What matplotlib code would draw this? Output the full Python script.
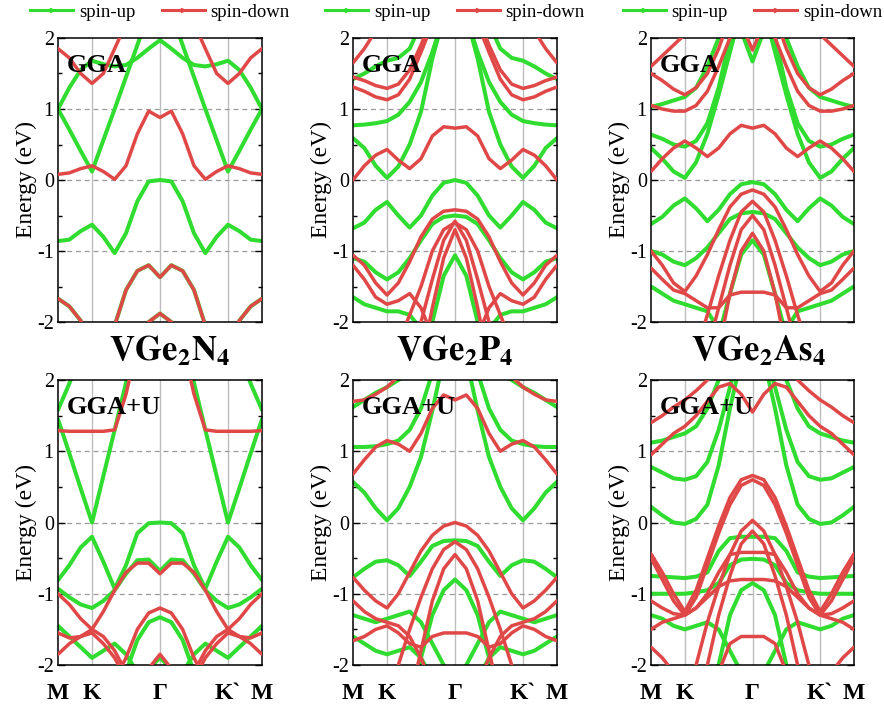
import matplotlib
matplotlib.use('Agg')
import matplotlib.pyplot as plt
from matplotlib.lines import Line2D

plt.rcParams['font.family'] = ['Liberation Serif', 'DejaVu Serif']
plt.rcParams['mathtext.fontset'] = 'stix'

# k-path coordinate (M -> K -> Gamma -> K' -> M), 19 sampled points
K_PATH = [0.0, 0.0556, 0.1111, 0.1667, 0.2222, 0.2778, 0.3333, 0.3889, 0.4444, 0.5,
          0.5556, 0.6111, 0.6667, 0.7222, 0.7778, 0.8333, 0.8889, 0.9444, 1.0]
K_TICKS = [0.0, 0.1667, 0.5, 0.8333, 1.0]
K_LABELS = ['M', 'K', 'Γ', 'K`', 'M']
E_TICKS = [-2, -1, 0, 1, 2]
COMPOUNDS = [r'$\mathbf{VGe_2N_4}$', r'$\mathbf{VGe_2P_4}$', r'$\mathbf{VGe_2As_4}$']
METHODS = ['GGA', 'GGA+U']

# ---------------- VGe2N4, GGA ----------------
N4_GGA_UP = [
    [1.0, 0.71, 0.41, 0.12, 0.56, 1.0, 1.45, 1.9, 2.35, 2.6, 2.35, 1.9, 1.45, 1.0, 0.56, 0.12, 0.41, 0.71, 1.0],
    [1.0, 1.3, 1.55, 1.68, 1.63, 1.6, 1.62, 1.72, 1.85, 1.97, 1.85, 1.72, 1.62, 1.6, 1.63, 1.68, 1.55, 1.3, 1.0],
    [-0.86, -0.84, -0.72, -0.63, -0.8, -1.03, -0.75, -0.3, -0.02, 0.0, -0.02, -0.3, -0.75, -1.03, -0.8, -0.63, -0.72, -0.84, -0.86],
    [-1.67, -1.78, -1.98, -2.3, -2.4, -2.05, -1.55, -1.28, -1.2, -1.37, -1.2, -1.28, -1.55, -2.05, -2.4, -2.3, -1.98, -1.78, -1.67],
    [-3, -3, -3, -3, -3, -3, -2.6, -2.2, -2.0, -1.88, -2.0, -2.2, -2.6, -3, -3, -3, -3, -3, -3],
]
N4_GGA_DN = [
    [0.08, 0.1, 0.16, 0.2, 0.12, 0.01, 0.2, 0.65, 0.97, 0.88, 0.97, 0.65, 0.2, 0.01, 0.12, 0.2, 0.16, 0.1, 0.08],
    [1.85, 1.72, 1.5, 1.36, 1.5, 1.85, 2.2, 2.6, 2.9, 3.0, 2.9, 2.6, 2.2, 1.85, 1.5, 1.36, 1.5, 1.72, 1.85],
    [-1.67, -1.78, -1.98, -2.3, -2.4, -2.05, -1.55, -1.28, -1.2, -1.37, -1.2, -1.28, -1.55, -2.05, -2.4, -2.3, -1.98, -1.78, -1.67],
    [-3, -3, -3, -3, -3, -3, -2.6, -2.2, -2.0, -1.88, -2.0, -2.2, -2.6, -3, -3, -3, -3, -3, -3],
]

# ---------------- VGe2P4, GGA ----------------
P4_GGA_UP = [
    [0.59, 0.45, 0.2, 0.03, 0.19, 0.5, 0.96, 1.71, 2.3, 2.6, 2.3, 1.71, 0.96, 0.5, 0.19, 0.03, 0.2, 0.45, 0.59],
    [0.77, 0.78, 0.8, 0.83, 0.92, 1.1, 1.38, 1.8, 2.3, 2.7, 2.3, 1.8, 1.38, 1.1, 0.92, 0.83, 0.8, 0.78, 0.77],
    [1.42, 1.5, 1.6, 1.68, 1.72, 1.85, 2.2, 2.6, 2.9, 3.0, 2.9, 2.6, 2.2, 1.85, 1.72, 1.68, 1.6, 1.5, 1.42],
    [-0.68, -0.6, -0.42, -0.31, -0.5, -0.67, -0.5, -0.22, -0.04, 0.0, -0.04, -0.22, -0.5, -0.67, -0.5, -0.31, -0.42, -0.6, -0.68],
    [-1.1, -1.15, -1.3, -1.4, -1.3, -1.1, -0.85, -0.62, -0.52, -0.5, -0.52, -0.62, -0.85, -1.1, -1.3, -1.4, -1.3, -1.15, -1.1],
    [-3, -3, -3, -3, -3, -3, -2.7, -2.0, -1.35, -1.06, -1.35, -2.0, -2.7, -3, -3, -3, -3, -3, -3],
    [-1.65, -1.75, -1.8, -1.85, -1.85, -1.9, -2.1, -2.5, -2.8, -3.0, -2.8, -2.5, -2.1, -1.9, -1.85, -1.85, -1.8, -1.75, -1.65],
]
P4_GGA_DN = [
    [0.0, 0.2, 0.35, 0.43, 0.28, 0.16, 0.3, 0.62, 0.75, 0.73, 0.75, 0.62, 0.3, 0.16, 0.28, 0.43, 0.35, 0.2, 0.0],
    [1.31, 1.25, 1.17, 1.13, 1.2, 1.42, 1.8, 2.2, 2.6, 2.8, 2.6, 2.2, 1.8, 1.42, 1.2, 1.13, 1.17, 1.25, 1.31],
    [1.45, 1.4, 1.33, 1.29, 1.35, 1.55, 1.9, 2.3, 2.7, 2.9, 2.7, 2.3, 1.9, 1.55, 1.35, 1.29, 1.33, 1.4, 1.45],
    [1.65, 1.85, 2.1, 2.4, 2.7, 3.0, 3.0, 3.0, 3.0, 3.0, 3.0, 3.0, 3.0, 3.0, 2.7, 2.4, 2.1, 1.85, 1.65],
    [-1.06, -1.2, -1.45, -1.62, -1.45, -1.15, -0.8, -0.55, -0.44, -0.42, -0.44, -0.55, -0.8, -1.15, -1.45, -1.62, -1.45, -1.2, -1.06],
    [-3, -3, -3, -3, -3, -2.4, -2.0, -1.4, -0.85, -0.58, -0.85, -1.4, -2.0, -2.4, -3, -3, -3, -3, -3],
    [-3, -3, -3, -3, -3, -3, -2.6, -1.8, -1.1, -0.7, -1.1, -1.8, -2.6, -3, -3, -3, -3, -3, -3],
    [-3, -3, -3, -3, -2.3, -1.9, -1.5, -1.0, -0.7, -0.6, -0.7, -1.0, -1.5, -1.9, -2.3, -3, -3, -3, -3],
    [-1.2, -1.4, -1.65, -1.75, -1.7, -1.6, -1.8, -2.2, -2.6, -3.0, -2.6, -2.2, -1.8, -1.6, -1.7, -1.75, -1.65, -1.4, -1.2],
]

# ---------------- VGe2As4, GGA ----------------
AS4_GGA_UP = [
    [0.45, 0.3, 0.12, 0.03, 0.25, 0.65, 1.2, 1.8, 2.4, 2.7, 2.4, 1.8, 1.2, 0.65, 0.25, 0.03, 0.12, 0.3, 0.45],
    [0.64, 0.58, 0.5, 0.47, 0.55, 0.8, 1.3, 2.0, 2.6, 2.9, 2.6, 2.0, 1.3, 0.8, 0.55, 0.47, 0.5, 0.58, 0.64],
    [1.03, 1.07, 1.12, 1.17, 1.3, 1.6, 2.0, 2.5, 2.9, 3.0, 2.9, 2.5, 2.0, 1.6, 1.3, 1.17, 1.12, 1.07, 1.03],
    [3, 3, 3, 3, 3, 3, 3, 2.6, 2.1, 1.67, 2.1, 2.6, 3, 3, 3, 3, 3, 3, 3],
    [-0.62, -0.52, -0.36, -0.26, -0.4, -0.58, -0.42, -0.2, -0.06, -0.03, -0.06, -0.2, -0.42, -0.58, -0.4, -0.26, -0.36, -0.52, -0.62],
    [-1.0, -1.05, -1.15, -1.2, -1.1, -0.95, -0.75, -0.55, -0.47, -0.45, -0.47, -0.55, -0.75, -0.95, -1.1, -1.2, -1.15, -1.05, -1.0],
    [-3, -3, -3, -3, -3, -3, -2.2, -1.6, -1.05, -0.85, -1.05, -1.6, -2.2, -3, -3, -3, -3, -3, -3],
    [-1.5, -1.6, -1.7, -1.75, -1.8, -1.85, -2.1, -2.5, -2.8, -3.0, -2.8, -2.5, -2.1, -1.85, -1.8, -1.75, -1.7, -1.6, -1.5],
]
AS4_GGA_DN = [
    [0.12, 0.3, 0.45, 0.55, 0.45, 0.33, 0.45, 0.65, 0.77, 0.73, 0.77, 0.65, 0.45, 0.33, 0.45, 0.55, 0.45, 0.3, 0.12],
    [1.05, 1.0, 0.97, 0.97, 1.05, 1.25, 1.6, 2.0, 2.5, 2.8, 2.5, 2.0, 1.6, 1.25, 1.05, 0.97, 0.97, 1.0, 1.05],
    [1.5, 1.4, 1.28, 1.2, 1.3, 1.5, 1.85, 2.3, 2.7, 3.0, 2.7, 2.3, 1.85, 1.5, 1.3, 1.2, 1.28, 1.4, 1.5],
    [3, 3, 3, 3, 3, 3, 3, 2.7, 2.2, 1.83, 2.2, 2.7, 3, 3, 3, 3, 3, 3, 3],
    [1.6, 1.75, 1.9, 2.05, 2.2, 2.5, 3.0, 3.0, 3.0, 3.0, 3.0, 3.0, 3.0, 2.5, 2.2, 2.05, 1.9, 1.75, 1.6],
    [-1.0, -1.2, -1.45, -1.57, -1.35, -1.05, -0.7, -0.38, -0.2, -0.14, -0.2, -0.38, -0.7, -1.05, -1.35, -1.57, -1.45, -1.2, -1.0],
    [-3, -3, -3, -3, -2.4, -1.9, -1.35, -0.85, -0.45, -0.3, -0.45, -0.85, -1.35, -1.9, -2.4, -3, -3, -3, -3],
    [-3, -3, -3, -3, -3, -2.4, -1.8, -1.2, -0.7, -0.5, -0.7, -1.2, -1.8, -2.4, -3, -3, -3, -3, -3],
    [-3, -3, -3, -3, -3, -3, -2.4, -1.6, -1.0, -0.75, -1.0, -1.6, -2.4, -3, -3, -3, -3, -3, -3],
    [-1.24, -1.4, -1.55, -1.6, -1.7, -1.8, -1.8, -1.62, -1.58, -1.58, -1.58, -1.62, -1.8, -1.8, -1.7, -1.6, -1.55, -1.4, -1.24],
]

# ---------------- VGe2N4, GGA+U ----------------
N4_U_UP = [
    [1.45, 0.97, 0.48, 0.0, 0.65, 1.3, 1.96, 2.6, 3.0, 3.0, 3.0, 2.6, 1.96, 1.3, 0.65, 0.0, 0.48, 0.97, 1.45],
    [1.58, 1.95, 2.4, 2.8, 3.0, 3.0, 3.0, 3.0, 3.0, 3.0, 3.0, 3.0, 3.0, 3.0, 3.0, 2.8, 2.4, 1.95, 1.58],
    [-0.81, -0.6, -0.35, -0.2, -0.55, -0.93, -0.6, -0.15, -0.01, 0.0, -0.01, -0.15, -0.6, -0.93, -0.55, -0.2, -0.35, -0.6, -0.81],
    [-0.93, -1.05, -1.15, -1.2, -1.1, -0.95, -0.72, -0.53, -0.52, -0.68, -0.52, -0.53, -0.72, -0.95, -1.1, -1.2, -1.15, -1.05, -0.93],
    [-3, -3, -3, -3, -3, -2.6, -2.1, -1.65, -1.4, -1.33, -1.4, -1.65, -2.1, -2.6, -3, -3, -3, -3, -3],
    [-1.45, -1.6, -1.75, -1.9, -1.8, -1.7, -1.85, -2.1, -2.5, -3.0, -2.5, -2.1, -1.85, -1.7, -1.8, -1.9, -1.75, -1.6, -1.45],
    [-3, -3, -3, -3, -3, -3, -3, -2.5, -2.05, -1.9, -2.05, -2.5, -3, -3, -3, -3, -3, -3, -3],
]
N4_U_DN = [
    [1.29, 1.28, 1.28, 1.28, 1.28, 1.3, 1.8, 2.5, 3.0, 3.0, 3.0, 2.5, 1.8, 1.3, 1.28, 1.28, 1.28, 1.28, 1.29],
    [-1.0, -1.15, -1.35, -1.5, -1.25, -0.95, -0.7, -0.57, -0.57, -0.72, -0.57, -0.57, -0.7, -0.95, -1.25, -1.5, -1.35, -1.15, -1.0],
    [-3, -3, -3, -3, -2.6, -2.2, -1.9, -1.5, -1.27, -1.2, -1.27, -1.5, -1.9, -2.2, -2.6, -3, -3, -3, -3],
    [-3, -3, -3, -3, -3, -3, -2.6, -2.2, -2.05, -1.85, -2.05, -2.2, -2.6, -3, -3, -3, -3, -3, -3],
    [-1.55, -1.62, -1.6, -1.5, -1.6, -1.8, -2.1, -2.5, -3.0, -3.0, -3.0, -2.5, -2.1, -1.8, -1.6, -1.5, -1.6, -1.62, -1.55],
    [-1.85, -1.7, -1.6, -1.55, -1.7, -1.9, -2.2, -2.6, -3.0, -3.0, -3.0, -2.6, -2.2, -1.9, -1.7, -1.55, -1.6, -1.7, -1.85],
]

# ---------------- VGe2P4, GGA+U ----------------
P4_U_UP = [
    [0.57, 0.42, 0.2, 0.03, 0.2, 0.5, 0.92, 1.57, 2.3, 2.6, 2.3, 1.57, 0.92, 0.5, 0.2, 0.03, 0.2, 0.42, 0.57],
    [1.06, 1.06, 1.07, 1.1, 1.15, 1.3, 1.6, 2.1, 2.6, 3.0, 2.6, 2.1, 1.6, 1.3, 1.15, 1.1, 1.07, 1.06, 1.06],
    [1.62, 1.72, 1.82, 1.9, 2.0, 2.1, 2.3, 2.6, 3.0, 3.0, 3.0, 2.6, 2.3, 2.1, 2.0, 1.9, 1.82, 1.72, 1.62],
    [-0.77, -0.65, -0.55, -0.53, -0.6, -0.75, -0.55, -0.33, -0.26, -0.25, -0.26, -0.33, -0.55, -0.75, -0.6, -0.53, -0.55, -0.65, -0.77],
    [-3, -3, -3, -3, -3, -2.6, -1.9, -1.3, -0.95, -0.8, -0.95, -1.3, -1.9, -2.6, -3, -3, -3, -3, -3],
    [-1.3, -1.35, -1.4, -1.35, -1.3, -1.25, -1.4, -1.7, -2.0, -2.2, -2.0, -1.7, -1.4, -1.25, -1.3, -1.35, -1.4, -1.35, -1.3],
    [-1.6, -1.7, -1.8, -1.85, -1.8, -1.75, -1.9, -2.2, -2.6, -3.0, -2.6, -2.2, -1.9, -1.75, -1.8, -1.85, -1.8, -1.7, -1.6],
]
P4_U_DN = [
    [0.68, 0.88, 1.06, 1.15, 1.1, 1.0, 1.25, 1.6, 1.79, 1.72, 1.79, 1.6, 1.25, 1.0, 1.1, 1.15, 1.06, 0.88, 0.68],
    [1.7, 1.72, 1.8, 1.9, 2.05, 2.3, 2.6, 3.0, 3.0, 3.0, 3.0, 3.0, 2.6, 2.3, 2.05, 1.9, 1.8, 1.72, 1.7],
    [-0.77, -0.95, -1.1, -1.2, -1.0, -0.7, -0.4, -0.18, -0.05, 0.0, -0.05, -0.18, -0.4, -0.7, -1.0, -1.2, -1.1, -0.95, -0.77],
    [-3, -3, -3, -3, -2.0, -1.5, -1.05, -0.65, -0.38, -0.27, -0.38, -0.65, -1.05, -1.5, -2.0, -3, -3, -3, -3],
    [-3, -3, -3, -3, -3, -2.5, -1.8, -1.1, -0.65, -0.45, -0.65, -1.1, -1.8, -2.5, -3, -3, -3, -3, -3],
    [-1.66, -1.6, -1.5, -1.45, -1.55, -1.7, -1.75, -1.6, -1.55, -1.55, -1.55, -1.6, -1.75, -1.7, -1.55, -1.45, -1.5, -1.6, -1.66],
    [-1.1, -1.25, -1.35, -1.4, -1.45, -1.6, -1.9, -2.3, -2.7, -3.0, -2.7, -2.3, -1.9, -1.6, -1.45, -1.4, -1.35, -1.25, -1.1],
]

# ---------------- VGe2As4, GGA+U ----------------
AS4_U_UP = [
    [0.22, 0.1, 0.0, -0.02, 0.05, 0.25, 0.8, 1.6, 2.3, 2.7, 2.3, 1.6, 0.8, 0.25, 0.05, -0.02, 0.0, 0.1, 0.22],
    [0.78, 0.7, 0.62, 0.6, 0.65, 0.85, 1.3, 1.9, 2.5, 2.9, 2.5, 1.9, 1.3, 0.85, 0.65, 0.6, 0.62, 0.7, 0.78],
    [1.12, 1.15, 1.2, 1.25, 1.35, 1.6, 2.0, 2.5, 2.9, 3.0, 2.9, 2.5, 2.0, 1.6, 1.35, 1.25, 1.2, 1.15, 1.12],
    [-0.75, -0.76, -0.77, -0.78, -0.76, -0.7, -0.4, -0.22, -0.2, -0.2, -0.2, -0.22, -0.4, -0.7, -0.76, -0.78, -0.77, -0.76, -0.75],
    [-1.0, -1.0, -1.0, -1.0, -0.98, -0.95, -0.85, -0.6, -0.52, -0.51, -0.52, -0.6, -0.85, -0.95, -0.98, -1.0, -1.0, -1.0, -1.0],
    [-3, -3, -3, -3, -3, -2.6, -2.0, -1.3, -0.95, -0.85, -0.95, -1.3, -2.0, -2.6, -3, -3, -3, -3, -3],
    [-1.3, -1.35, -1.45, -1.5, -1.45, -1.4, -1.5, -1.8, -2.1, -2.3, -2.1, -1.8, -1.5, -1.4, -1.45, -1.5, -1.45, -1.35, -1.3],
]
AS4_U_DN = [
    [-0.44, -0.7, -1.0, -1.25, -0.95, -0.5, -0.05, 0.35, 0.6, 0.66, 0.6, 0.35, -0.05, -0.5, -0.95, -1.25, -1.0, -0.7, -0.44],
    [-0.5, -0.8, -1.1, -1.3, -1.05, -0.6, -0.15, 0.25, 0.52, 0.6, 0.52, 0.25, -0.15, -0.6, -1.05, -1.3, -1.1, -0.8, -0.5],
    [-3, -3, -3, -3, -2.0, -1.4, -0.9, -0.45, -0.12, 0.03, -0.12, -0.45, -0.9, -1.4, -2.0, -3, -3, -3, -3],
    [-3, -3, -3, -3, -3, -2.0, -1.3, -0.75, -0.3, -0.12, -0.3, -0.75, -1.3, -2.0, -3, -3, -3, -3, -3],
    [-1.1, -1.2, -1.28, -1.3, -1.2, -1.0, -0.7, -0.45, -0.42, -0.42, -0.42, -0.45, -0.7, -1.0, -1.2, -1.3, -1.28, -1.2, -1.1],
    [-1.5, -1.4, -1.35, -1.3, -1.2, -1.05, -0.9, -0.82, -0.8, -0.8, -0.8, -0.82, -0.9, -1.05, -1.2, -1.3, -1.35, -1.4, -1.5],
    [-3, -3, -3, -3, -3, -2.6, -2.1, -1.7, -1.6, -1.6, -1.6, -1.7, -2.1, -2.6, -3, -3, -3, -3, -3],
    [-1.75, -1.9, -2.1, -2.4, -2.8, -3, -3, -3, -3, -3, -3, -3, -3, -3, -2.8, -2.4, -2.1, -1.9, -1.75],
    [0.95, 1.1, 1.25, 1.35, 1.5, 1.7, 1.9, 1.95, 1.8, 1.55, 1.8, 1.95, 1.9, 1.7, 1.5, 1.35, 1.25, 1.1, 0.95],
    [1.4, 1.5, 1.62, 1.72, 1.85, 2.0, 2.2, 2.5, 2.8, 3.0, 2.8, 2.5, 2.2, 2.0, 1.85, 1.72, 1.62, 1.5, 1.4],
]

PANELS = [
    [(N4_GGA_UP, N4_GGA_DN), (P4_GGA_UP, P4_GGA_DN), (AS4_GGA_UP, AS4_GGA_DN)],
    [(N4_U_UP, N4_U_DN), (P4_U_UP, P4_U_DN), (AS4_U_UP, AS4_U_DN)],
]

GREEN = '#2fdc2f'
RED = '#e04848'

fig = plt.figure(figsize=(8.84, 7.13), dpi=100)

lefts = [58 / 884, 353 / 884, 651 / 884]
widths = [204 / 884, 204 / 884, 203 / 884]
bottoms = [1 - 322 / 713, 1 - 665 / 713]
heights = [284 / 713, 285 / 713]

for r in range(2):
    for c in range(3):
        ax = fig.add_axes([lefts[c], bottoms[r], widths[c], heights[r]])
        up, dn = PANELS[r][c]
        for kx in K_TICKS[1:-1]:
            ax.axvline(kx, color='#bdbdbd', lw=1.0, zorder=0)
        for e in [-1, 0, 1]:
            ax.axhline(e, color='#9a9a9a', lw=0.9, ls=(0, (4, 3)), zorder=0)
        for band in up:
            ax.plot(K_PATH, band, color=GREEN, lw=2.9, solid_joinstyle='round',
                    solid_capstyle='round', zorder=2)
        for band in dn:
            ax.plot(K_PATH, band, color=RED, lw=2.5, solid_joinstyle='round',
                    solid_capstyle='round', zorder=3)
        ax.set_xlim(0, 1)
        ax.set_ylim(-2, 2)
        ax.set_yticks(E_TICKS)
        ax.set_yticklabels([str(t) for t in E_TICKS])
        ax.set_yticks([-1.5, -0.5, 0.5, 1.5], minor=True)
        ax.tick_params(axis='y', which='major', direction='in', right=True,
                       length=5, width=1, labelsize=14.5, pad=3)
        ax.tick_params(axis='y', which='minor', direction='in', right=True,
                       length=3, width=1)
        ax.set_xticks(K_TICKS)
        ax.tick_params(axis='x', length=0, pad=13)
        if r == 1:
            ax.set_xticklabels(K_LABELS, fontsize=17, fontweight='bold')
        else:
            ax.set_xticklabels([])
        for s in ax.spines.values():
            s.set_linewidth(1.1)
        ax.set_ylabel('Energy (eV)', fontsize=17, labelpad=0)
        ax.text(0.045, 0.945, METHODS[r], transform=ax.transAxes, fontsize=19,
                fontweight='bold', va='top', ha='left', zorder=5)
        if r == 0:
            handles = [Line2D([0], [0], color=GREEN, lw=2.2, marker='>', ms=3),
                       Line2D([0], [0], color=RED, lw=2.2, marker='>', ms=3)]
            ax.legend(handles, ['spin-up', 'spin-down'], loc='center',
                      bbox_to_anchor=(0.5, 1.09), ncol=2, frameon=False,
                      fontsize=13.5, handlelength=2.3, handletextpad=0.3,
                      columnspacing=1.4, numpoints=1)

title_x = [170 / 884, 455 / 884, 758 / 884]
for c in range(3):
    fig.text(title_x[c], 1 - 352 / 713, COMPOUNDS[c], fontsize=25,
             ha='center', va='center')

fig.savefig('out.png', dpi=100)
